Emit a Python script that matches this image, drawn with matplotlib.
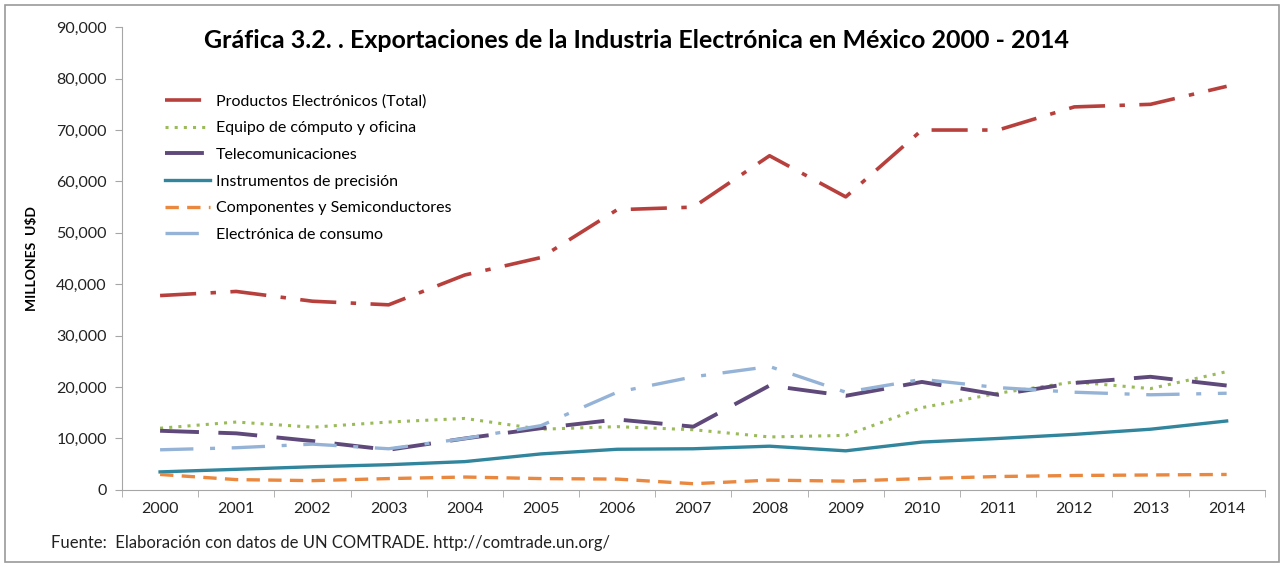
import matplotlib
matplotlib.use("Agg")
import matplotlib.pyplot as plt
from matplotlib.patches import Rectangle
from matplotlib.ticker import FuncFormatter, FixedLocator

plt.rcParams['font.family'] = ['Lato', 'DejaVu Sans']

years = ['2000', '2001', '2002', '2003', '2004', '2005', '2006', '2007',
         '2008', '2009', '2010', '2011', '2012', '2013', '2014']

total = [37800, 38600, 36700, 36000, 41800, 45200, 54500, 55000,
         65000, 57000, 70000, 70000, 74500, 75000, 78500]
equipo = [12000, 13200, 12200, 13200, 13900, 11800, 12300, 11700,
          10300, 10600, 16000, 18800, 21000, 19700, 23000]
telecom = [11500, 11000, 9500, 7800, 10000, 12000, 13700, 12300,
           20300, 18300, 21000, 18500, 20800, 22000, 20300]
instrumentos = [3500, 4000, 4500, 4900, 5500, 7000, 7900, 8000,
                8500, 7600, 9300, 10000, 10800, 11800, 13400]
componentes = [3000, 2000, 1800, 2200, 2500, 2200, 2100, 1200,
               1900, 1700, 2200, 2600, 2800, 2900, 3000]
consumo = [7800, 8200, 8900, 8000, 10000, 12500, 19000, 22000,
           24000, 19000, 21500, 19900, 19000, 18500, 18800]

x = list(range(len(years)))

fig = plt.figure(figsize=(12.84, 5.67), dpi=100)
ax = fig.add_axes([0.095, 0.136, 0.89, 0.816])

ax.plot(x, total, color='#B7403D', lw=2.6, dashes=(10, 4, 1.5, 4),
        label='Productos Electrónicos (Total)')
ax.plot(x, equipo, color='#9BBB59', lw=2.2, dashes=(1, 2),
        label='Equipo de cómputo y oficina')
ax.plot(x, telecom, color='#5F497A', lw=2.8, dashes=(10, 5),
        label='Telecomunicaciones')
ax.plot(x, instrumentos, color='#31859C', lw=2.4,
        label='Instrumentos de precisión')
ax.plot(x, componentes, color='#E9883E', lw=2.4, dashes=(4, 2.5),
        label='Componentes y Semiconductores')
ax.plot(x, consumo, color='#95B3D7', lw=2.4, dashes=(10, 5, 1.5, 5),
        label='Electrónica de consumo')

ax.set_xlim(-0.5, len(years) - 0.5)
ax.set_ylim(0, 90000)
ax.set_yticks(range(0, 90001, 10000))
ax.yaxis.set_major_formatter(FuncFormatter(lambda v, p: '{:,.0f}'.format(v)))
ax.set_xticks(x)
ax.set_xticklabels(years)
ax.xaxis.set_minor_locator(FixedLocator([i - 0.5 for i in range(len(years) + 1)]))
ax.tick_params(axis='x', which='major', length=0, pad=9)
ax.tick_params(axis='x', which='minor', length=5, color='#A6A6A6')
ax.tick_params(axis='y', length=5, color='#A6A6A6', pad=6)
ax.tick_params(labelsize=11.5, labelcolor='#222222')

for s in ['top', 'right']:
    ax.spines[s].set_visible(False)
for s in ['left', 'bottom']:
    ax.spines[s].set_color('#A6A6A6')

ax.set_ylabel('MILLONES  U$D', fontsize=10, fontweight='bold', labelpad=13)

ax.text(0.072, 0.972, 'Gráfica 3.2. . Exportaciones de la Industria Electrónica en México 2000 - 2014',
        transform=ax.transAxes, fontsize=18, fontweight='bold', va='center', ha='left')

ax.legend(loc='upper left', bbox_to_anchor=(0.025, 0.886), frameon=False,
          fontsize=11.5, handlelength=2.8, handletextpad=0.4, labelspacing=0.78)

fig.text(0.04, 0.042, 'Fuente:  Elaboración con datos de UN COMTRADE. http://comtrade.un.org/',
         fontsize=12, color='#222222', va='center')

fig.patches.append(Rectangle((0.004, 0.008), 0.992, 0.984, transform=fig.transFigure,
                             fill=False, edgecolor='#9A9A9A', lw=1.2))

fig.savefig('out.png', dpi=100)
